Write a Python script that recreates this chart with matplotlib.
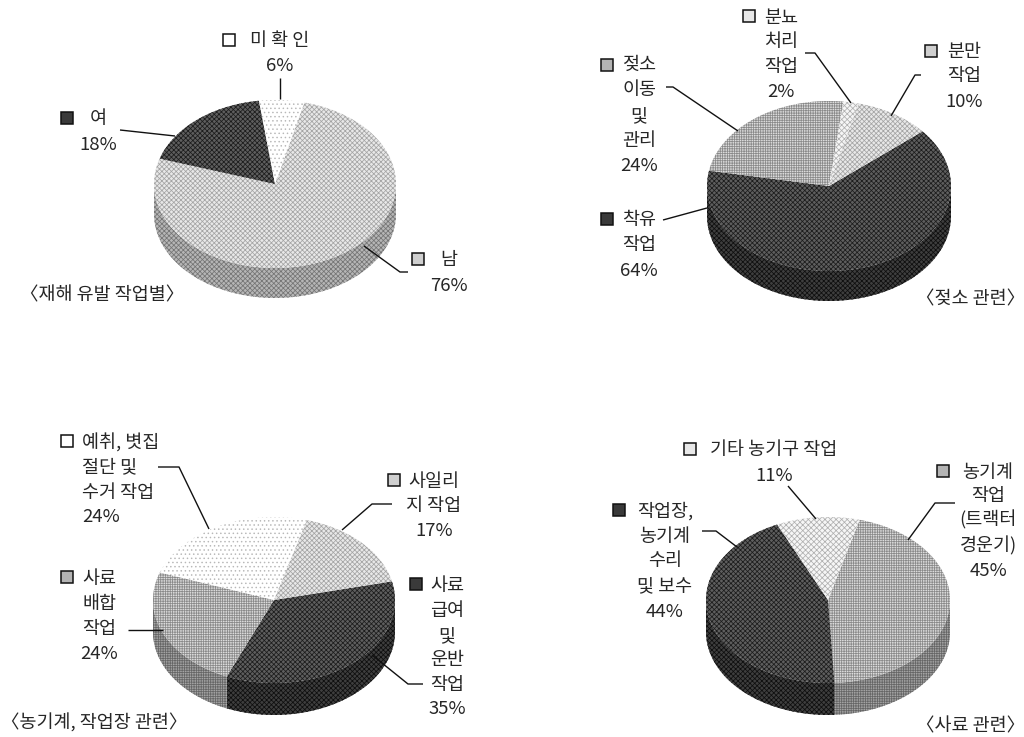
import numpy as np
import matplotlib
matplotlib.use("Agg")
import matplotlib.pyplot as plt
from matplotlib.patches import Polygon, Rectangle

plt.rcParams['font.family'] = ['Noto Sans CJK KR', 'DejaVu Sans']
plt.rcParams['hatch.linewidth'] = 0.55

# Injury shares per work type, one group of arrays per pie
names_cause = [["남"], ["여"], ["미 확 인"]]
values_cause = [76, 18, 6]
caption_cause = "〈재해 유발 작업별〉"

names_cow = [["착유", "작업"], ["젖소", "이동", "및", "관리"], ["분뇨", "처리", "작업"], ["분만", "작업"]]
values_cow = [64, 24, 2, 10]
caption_cow = "〈젖소 관련〉"

names_machine = [["사료", "급여", "및", "운반", "작업"], ["사료", "배합", "작업"],
                 ["예취, 볏집", "절단 및", "수거 작업"], ["사일리", "지 작업"]]
values_machine = [35, 24, 24, 17]
caption_machine = "〈농기계, 작업장 관련〉"

names_feed = [["농기계", "작업", "(트랙터", "경운기)"], ["작업장,", "농기계", "수리", "및 보수"], ["기타 농기구 작업"]]
values_feed = [45, 44, 11]
caption_feed = "〈사료 관련〉"

# Screen-tone fills: top face, top hatch, side face, side hatch, hatch pattern, key colour
TONES = {
    "sparse": ("#ffffff", "#b8b8b8", "#eeeeee", "#999999", "....", "#ffffff"),
    "pale":   ("#f6f6f6", "#b0b0b0", "#c4c4c4", "#808080", "xxxxxx", "#e8e8e8"),
    "light":  ("#e8e8e8", "#a4a4a4", "#b6b6b6", "#747474", "xxxxxxx", "#cfcfcf"),
    "medium": ("#dcdcdc", "#8a8a8a", "#a4a4a4", "#666666", "+++++++", "#b4b4b4"),
    "dark":   ("#5e5e5e", "#1c1c1c", "#3e3e3e", "#0e0e0e", "xxxxxxx", "#3a3a3a"),
}

PIES = [
    dict(names=names_cause, values=values_cause, caption=caption_cause, start=14,
         center=(275, 184), rx=121, ry=84, depth=30,
         tones=["light", "dark", "sparse"], caption_xy=(20, 295),
         labels=[
             dict(sq=(418, 259), x=449, y=[260, 286], ha="center"),
             dict(sq=(67, 118), x=98, y=[119, 145], ha="center"),
             dict(sq=(229, 40), x=280, y=[41, 66], ha="center"),
         ],
         leaders=[[(364, 246), (400, 272), (408, 272)],
                  [(120, 130), (175, 136)],
                  [(279.5, 78), (279.5, 99)]]),
    dict(names=names_cow, values=values_cow, caption=caption_cow, start=50,
         center=(829, 186), rx=122, ry=85, depth=30,
         tones=["dark", "medium", "pale", "light"], caption_xy=(916, 299),
         labels=[
             dict(sq=(607, 219), x=639, y=[220, 245, 271], ha="center"),
             dict(sq=(607, 65), x=639, y=[65, 90, 116, 141, 166], ha="center"),
             dict(sq=(749, 16), x=781, y=[18, 42, 67, 92], ha="center"),
             dict(sq=(931, 51), x=964, y=[52, 76, 102], ha="center"),
         ],
         leaders=[[(663, 220), (707, 208)],
                  [(666, 87), (673, 87), (738, 131)],
                  [(805, 53), (815, 53), (851, 103)],
                  [(921, 75), (915, 75), (891, 116)]]),
    dict(names=names_machine, values=values_machine, caption=caption_machine, start=77,
         center=(274, 600), rx=121, ry=83, depth=32,
         tones=["dark", "medium", "sparse", "light"], caption_xy=(1, 723),
         labels=[
             dict(sq=(416, 584), x=447, y=[586, 611, 636, 660, 685, 709], ha="center"),
             dict(sq=(67, 577), x=99, y=[579, 604, 629, 654], ha="center"),
             dict(sq=(67, 441), x=82, y=[443, 467, 493, 517], ha="left"),
             dict(sq=(394, 480), x=434, y=[482, 506, 531], ha="center"),
         ],
         leaders=[[(372, 655), (408, 684), (423, 684)],
                  [(128, 630), (163, 630)],
                  [(158, 467), (179, 467), (209, 529)],
                  [(392, 504), (372, 504), (342, 530)]]),
    dict(names=names_feed, values=values_feed, caption=caption_feed, start=15,
         center=(828, 600), rx=122, ry=83, depth=32,
         tones=["medium", "dark", "pale"], caption_xy=(916, 726),
         labels=[
             dict(sq=(943, 471), x=988, y=[473, 496, 520, 546, 571], ha="center"),
             dict(sq=(619, 510), x=665, y=[511, 537, 561, 586, 612], ha="center"),
             dict(sq=(690, 449), x=774, y=[450, 476], ha="center"),
         ],
         leaders=[[(955, 503), (935, 503), (908, 540)],
                  [(702, 531), (716, 531), (737, 547)],
                  [(788, 486), (816, 519)]]),
]

font_size = 18.5 * 72 / 100
caption_size = 18.5 * 72 / 100


def rim(center, rx, ry, angles, drop=0):
    """Points on the ellipse; angles run clockwise from twelve o'clock, in degrees."""
    t = np.radians(angles)
    return np.column_stack([center[0] + rx * np.sin(t), center[1] - ry * np.cos(t) + drop])


fig = plt.figure(figsize=(10.24, 7.37), dpi=100, facecolor="white")
ax = fig.add_axes([0, 0, 1, 1])
ax.set_xlim(0, 1024)
ax.set_ylim(737, 0)
ax.axis("off")

for pie in PIES:
    edges = pie["start"] + np.concatenate([[0], np.cumsum(pie["values"])]) * 3.6
    c, rx, ry, depth = pie["center"], pie["rx"], pie["ry"], pie["depth"]

    # Side wall: only the front half of the rim is visible
    for a0, a1, tone in zip(edges[:-1], edges[1:], pie["tones"]):
        _, _, face, hatch_col, pattern, _ = TONES[tone]
        for shift in (0, 360):
            lo, hi = max(a0, 90 + shift), min(a1, 270 + shift)
            if hi <= lo:
                continue
            arc = np.linspace(lo, hi, 60)
            outline = np.vstack([rim(c, rx, ry, arc), rim(c, rx, ry, arc[::-1], depth)])
            ax.add_patch(Polygon(outline, closed=True, facecolor=face, edgecolor=hatch_col,
                                 hatch=pattern, linewidth=0, zorder=2))

    # Top face
    for a0, a1, tone in zip(edges[:-1], edges[1:], pie["tones"]):
        face, hatch_col, _, _, pattern, _ = TONES[tone]
        arc = np.linspace(a0, a1, 120)
        outline = np.vstack([[c], rim(c, rx, ry, arc)])
        ax.add_patch(Polygon(outline, closed=True, facecolor=face, edgecolor=hatch_col,
                             hatch=pattern, linewidth=0, zorder=3))

    # Category labels with their keys and values
    for name_lines, value, lab, tone, leader in zip(pie["names"], pie["values"], pie["labels"],
                                                    pie["tones"], pie["leaders"]):
        lines = name_lines + [f"{value}%"]
        for text, y in zip(lines, lab["y"]):
            ax.text(lab["x"], y, text, ha=lab["ha"], va="center", fontsize=font_size,
                    color="#262626", zorder=5)
        sx, sy = lab["sq"]
        ax.add_patch(Rectangle((sx - 6, sy - 6), 12, 12, facecolor=TONES[tone][5],
                               edgecolor="#111111", linewidth=1.1, zorder=5))
        xs, ys = zip(*leader)
        ax.plot(xs, ys, color="#111111", linewidth=1.0, zorder=4, solid_capstyle="butt")

    ax.text(*pie["caption_xy"], pie["caption"], ha="left", va="center",
            fontsize=caption_size, color="#262626", zorder=5)

fig.savefig("out.png", dpi=100, facecolor="white")
